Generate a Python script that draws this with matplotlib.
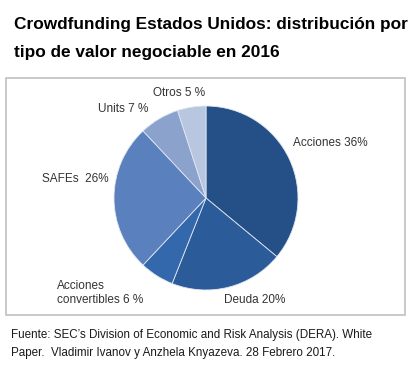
import matplotlib
matplotlib.use('Agg')
import matplotlib.pyplot as plt
from matplotlib.patches import Rectangle

# datos
categorias = ['Acciones', 'Deuda', 'Acciones\nconvertibles', 'SAFEs', 'Units', 'Otros']
valores = [36, 20, 6, 26, 7, 5]
etiquetas = ['Acciones 36%', 'Deuda 20%', 'Acciones\nconvertibles 6 %', 'SAFEs  26%', 'Units 7 %', 'Otros 5 %']
colores = ['#254f87', '#2c5b9a', '#3468ad', '#5a81bd', '#8aa2cc', '#b8c6e0']

W, H = 415, 374
fig = plt.figure(figsize=(W / 100, H / 100), dpi=100)
fig.patch.set_facecolor('white')

# título
tfont = ['Liberation Sans Narrow', 'DejaVu Sans Condensed', 'Liberation Sans', 'DejaVu Sans']
fig.text(14 / W, 1 - 25 / H, 'Crowdfunding Estados Unidos: distribución por',
         family=tfont, fontweight='bold', fontsize=12.4, va='center', ha='left')
fig.text(14 / W, 1 - 52 / H, 'tipo de valor negociable en 2016',
         family=tfont, fontweight='bold', fontsize=12.4, va='center', ha='left')

# recuadro del gráfico
fig.patches.append(Rectangle((6 / W, 1 - 315 / H), 399 / W, 237 / H,
                             transform=fig.transFigure, fill=False,
                             edgecolor='#c0c0c0', linewidth=1.2))

# pastel
cx, cy, r = 206, 198, 92
ax = fig.add_axes([(cx - 100) / W, (H - cy - 100) / H, 200 / W, 200 / H])
ax.pie(valores, colors=colores, startangle=90, counterclock=False, radius=r,
       wedgeprops=dict(edgecolor='#dfe6f1', linewidth=0.6))
ax.set_xlim(-100, 100)
ax.set_ylim(-100, 100)
ax.set_aspect('equal')
ax.axis('off')

# etiquetas
lfont = ['Liberation Sans', 'DejaVu Sans']
pos = [(293, 143, 'left'), (224, 300, 'left'), (57, 293, 'left'),
       (42, 179, 'left'), (98, 109, 'left'), (153, 93, 'left')]
for txt, (x, y, ha) in zip(etiquetas, pos):
    fig.text(x / W, 1 - y / H, txt, family=lfont, fontsize=8.5, color='#333333',
             va='center', ha=ha, linespacing=1.25)

# fuente
ffont = ['Liberation Sans', 'DejaVu Sans']
fig.text(11 / W, 1 - 335 / H,
         'Fuente: SEC\u2019s Division of Economic and Risk Analysis (DERA). White',
         family=ffont, fontsize=8.4, color='#1a1a1a', va='center', ha='left')
fig.text(11 / W, 1 - 353 / H,
         'Paper.  Vladimir Ivanov y Anzhela Knyazeva. 28 Febrero 2017.',
         family=ffont, fontsize=8.4, color='#1a1a1a', va='center', ha='left')

fig.savefig('out.png', dpi=100)
